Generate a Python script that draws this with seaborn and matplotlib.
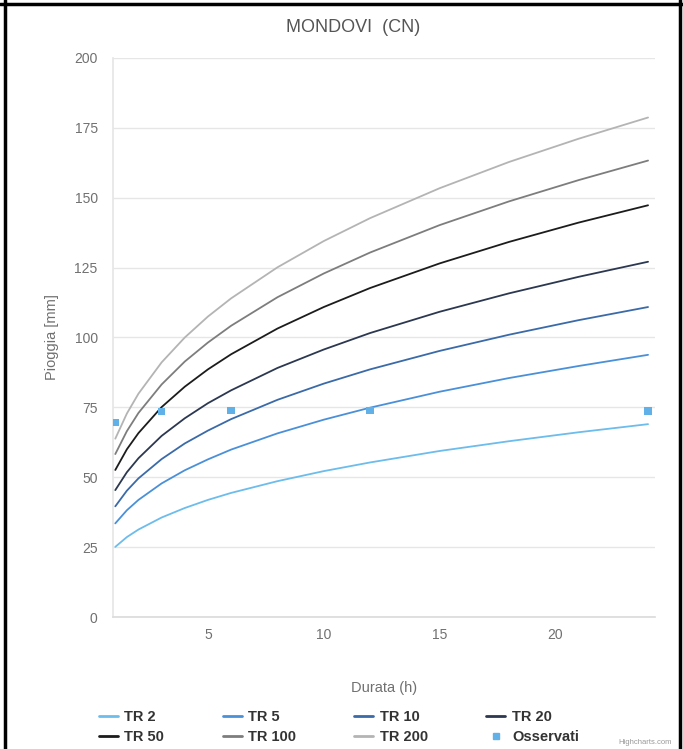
import pandas as pd
import matplotlib
matplotlib.use("Agg")
import matplotlib.pyplot as plt
from matplotlib.lines import Line2D
import seaborn as sns

# durations (h) and rainfall depth (mm)
durations = [1, 1.5, 2, 3, 4, 5, 6, 8, 10, 12, 15, 18, 21, 24]
tr2 = [25.1, 28.6, 31.3, 35.6, 39.0, 41.9, 44.4, 48.6, 52.2, 55.3, 59.4, 62.9, 66.1, 69.0]
tr5 = [33.5, 38.2, 41.9, 47.8, 52.5, 56.4, 59.9, 65.7, 70.6, 74.9, 80.6, 85.5, 89.8, 93.8]
tr10 = [39.6, 45.2, 49.6, 56.5, 62.1, 66.7, 70.8, 77.7, 83.5, 88.6, 95.2, 101.0, 106.2, 110.9]
tr20 = [45.4, 51.8, 56.8, 64.8, 71.1, 76.5, 81.1, 89.1, 95.7, 101.6, 109.2, 115.8, 121.7, 127.1]
tr50 = [52.6, 60.0, 65.8, 75.1, 82.4, 88.6, 94.0, 103.2, 110.9, 117.7, 126.5, 134.2, 141.1, 147.3]
tr100 = [58.3, 66.5, 73.0, 83.2, 91.4, 98.2, 104.2, 114.4, 122.9, 130.4, 140.2, 148.7, 156.3, 163.3]
tr200 = [63.8, 72.8, 79.9, 91.1, 100.0, 107.5, 114.0, 125.1, 134.5, 142.7, 153.4, 162.8, 171.1, 178.7]

obs_durations = [1, 3, 6, 12, 24]
obs_values = [69.5, 73.6, 73.8, 73.8, 73.7]

series_names = ['TR 2', 'TR 5', 'TR 10', 'TR 20', 'TR 50', 'TR 100', 'TR 200']
series_values = [tr2, tr5, tr10, tr20, tr50, tr100, tr200]
series_colors = ['#6cbcec', '#4a90d9', '#3a6aa8', '#2b3850', '#1c1c1c', '#7d7d7d', '#b4b4b4']
obs_color = '#62b0e8'

sns.set_theme(style="white")
plt.rcParams['font.family'] = ['Liberation Sans', 'DejaVu Sans']

rows = []
for name, vals in zip(series_names, series_values):
    for d, v in zip(durations, vals):
        rows.append((name, d, v))
df = pd.DataFrame(rows, columns=['Serie', 'Durata', 'Pioggia'])

fig = plt.figure(figsize=(6.83, 7.49), dpi=100)
ax = fig.add_axes([0.1654, 0.1762, 0.7936, 0.7464])

sns.lineplot(data=df, x='Durata', y='Pioggia', hue='Serie', hue_order=series_names,
             palette=dict(zip(series_names, series_colors)), linewidth=1.3,
             legend=False, sort=False, ax=ax)
sns.scatterplot(x=obs_durations, y=obs_values, marker='s', s=28, color=obs_color,
                edgecolor='none', ax=ax, zorder=5)

ax.set_xlim(0.9, 24.3)
ax.set_ylim(0, 200)
ax.set_yticks(range(0, 201, 25))
ax.set_xticks([5, 10, 15, 20])
ax.yaxis.grid(True, color='#e6e6e6', linewidth=1)
ax.xaxis.grid(False)
ax.set_axisbelow(True)
for s in ['top', 'right']:
    ax.spines[s].set_visible(False)
ax.spines['left'].set_color('#e6e6e6')
ax.spines['bottom'].set_color('#dcdcdc')
ax.tick_params(axis='both', length=0, labelsize=10, labelcolor='#707070')
ax.tick_params(axis='y', pad=11)
ax.tick_params(axis='x', pad=8)

ax.set_xlabel('Durata (h)', fontsize=10.5, color='#707070')
ax.set_ylabel('Pioggia [mm]', fontsize=10.5, color='#707070')
ax.xaxis.set_label_coords(0.5, -0.115)
ax.yaxis.set_label_coords(-0.10, 0.5)

fig.text(353 / 683, 1 - 27 / 749, 'MONDOVI  (CN)', ha='center', va='center',
         fontsize=13, color='#555555')

handles = {name: Line2D([], [], color=c, lw=2) for name, c in zip(series_names, series_colors)}
handles['Osservati'] = Line2D([], [], marker='s', ls='none', color=obs_color, markersize=5)
order = ['TR 2', 'TR 50', 'TR 5', 'TR 100', 'TR 10', 'TR 200', 'TR 20', 'Osservati']
fig.legend([handles[k] for k in order], order, ncol=4, loc='center left',
           bbox_to_anchor=(93 / 683, 1 - 727 / 749), frameon=False,
           prop={'weight': 'bold', 'size': 10.5}, labelcolor='#333333',
           handlelength=1.3, handletextpad=0.45, columnspacing=4.0,
           labelspacing=0.4, borderaxespad=0)

fig.text(672 / 683, 1 - 743 / 749, 'Highcharts.com', ha='right', va='center',
         fontsize=5.5, color='#999999')

# black frame around the chart box
for xs, ys in [([5 / 683, 5 / 683], [0, 1]), ([0, 1], [1 - 4 / 749, 1 - 4 / 749]),
               ([680 / 683, 680 / 683], [0, 1])]:
    fig.add_artist(Line2D(xs, ys, transform=fig.transFigure, color='black', lw=2.5))

fig.savefig('out.png', dpi=100)
